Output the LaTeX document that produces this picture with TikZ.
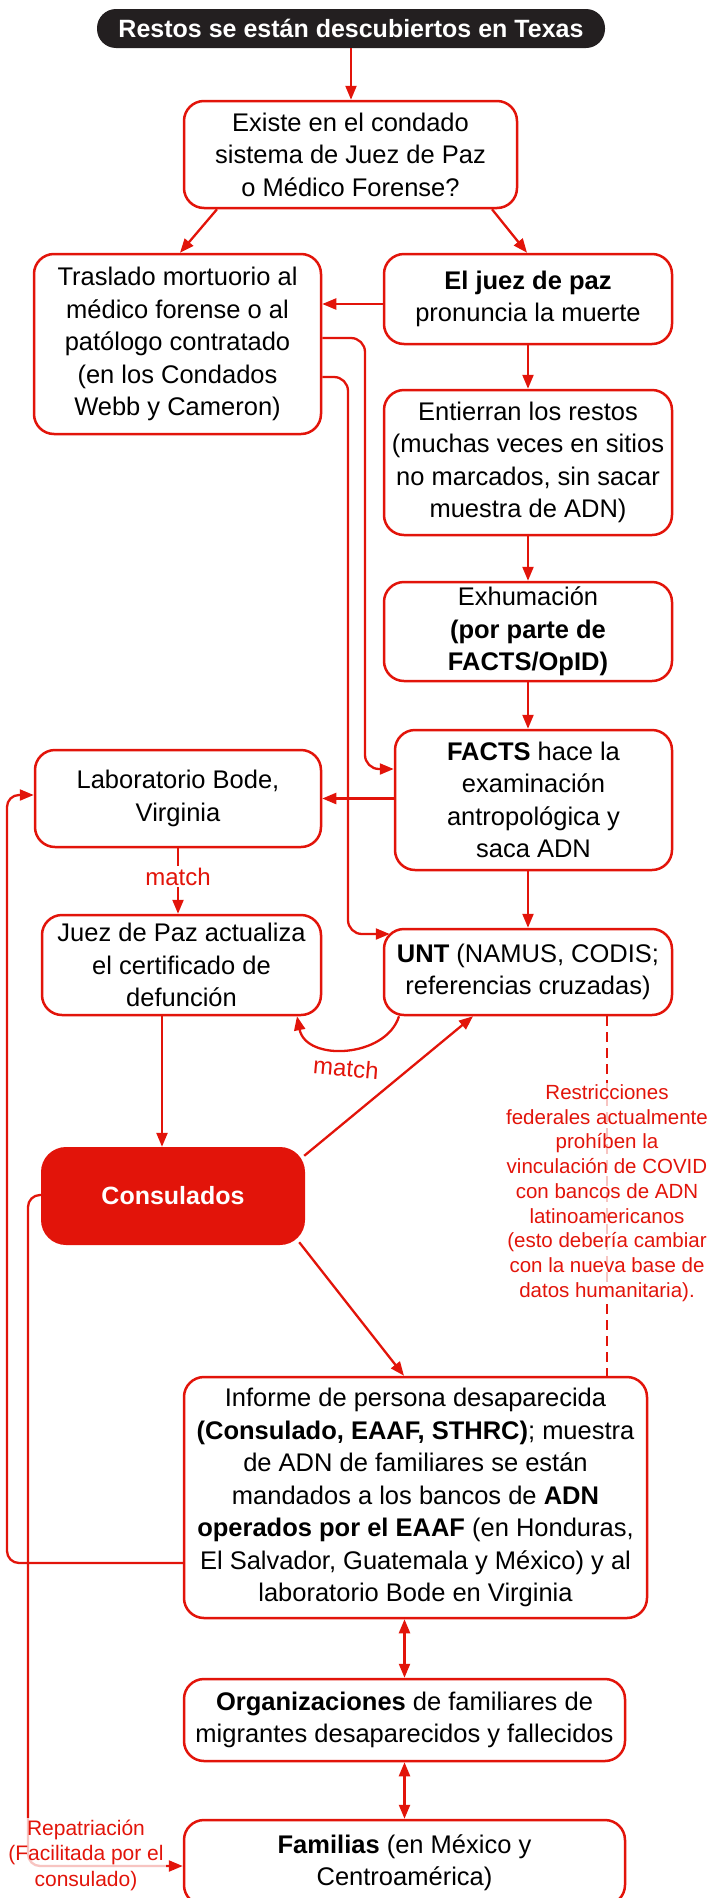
\documentclass[tikz,border=0pt]{standalone}
\usepackage{fontspec}
\setmainfont{Liberation Sans}
\usetikzlibrary{arrows.meta}
\definecolor{myred}{RGB}{226,20,10}
\definecolor{mydark}{RGB}{35,31,32}
\begin{document}
\begin{tikzpicture}[x=1pt,y=-1pt,
  box/.style={draw=myred, line width=2.5pt, rounded corners=20pt, fill=white, align=center, inner sep=0pt, font=\fontsize{25.5}{32.5}\selectfont},
  titlebox/.style={fill=mydark, text=white, rounded corners=19pt, align=center, inner sep=0pt, font=\bfseries\fontsize{25}{30}\selectfont},
  redbox/.style={fill=myred, text=white, rounded corners=25pt, align=center, inner sep=0pt, font=\bfseries\fontsize{25}{30}\selectfont},
  arr/.style={draw=myred, line width=2.3pt, -{Triangle[length=14pt,width=11pt]}},
  darr/.style={draw=myred, line width=2.3pt, {Triangle[length=14pt,width=11pt]}-{Triangle[length=14pt,width=11pt]}},
  dline/.style={draw=myred, line width=2.3pt, dash pattern=on 10pt off 6pt},
  lbl/.style={text=myred, fill=white, inner sep=2pt, font=\fontsize{24}{28}\selectfont},
  note/.style={text=myred, fill=white, fill opacity=0.75, text opacity=1, align=center, inner sep=2pt, font=\fontsize{20.5}{24.7}\selectfont}]
\useasboundingbox (0,0) rectangle (711,1898);

% nodes
\node[titlebox, minimum width=508pt, minimum height=39pt] (t) at (351,28.5) {Restos se están descubiertos en Texas};
\node[box, minimum width=333pt, minimum height=107pt] (existe) at (350.5,154.5) {Existe en el condado\\sistema de Juez de Paz\\o Médico Forense?};
\node[box, minimum width=287pt, minimum height=180pt] (traslado) at (177.5,344) {Traslado mortuorio al\\médico forense o al\\patólogo contratado\\(en los Condados\\Webb y Cameron)};
\node[box, minimum width=288pt, minimum height=90pt] (juez) at (528,299) {\textbf{El juez de paz}\\pronuncia la muerte};
\node[box, minimum width=288pt, minimum height=145pt] (entierran) at (528,462.5) {Entierran los restos\\(muchas veces en sitios\\no marcados, sin sacar\\muestra de ADN)};
\node[box, minimum width=288pt, minimum height=99pt] (exhum) at (528,631.5) {Exhumación\\\textbf{(por parte de}\\\textbf{FACTS/OpID)}};
\node[box, minimum width=277pt, minimum height=140pt] (facts) at (533.5,800) {\textbf{FACTS} hace la\\examinación\\antropológica y\\saca ADN};
\node[box, minimum width=286pt, minimum height=97pt] (bode) at (178,798.5) {Laboratorio Bode,\\Virginia};
\node[box, minimum width=279pt, minimum height=100pt] (juezact) at (181.5,965) {Juez de Paz actualiza\\el certificado de\\defunción};
\node[box, minimum width=288pt, minimum height=86pt] (unt) at (528,972) {\textbf{UNT} (NAMUS, CODIS;\\referencias cruzadas)};
\node[redbox, minimum width=264pt, minimum height=98pt] (consul) at (173,1196) {Consulados};
\node[box, minimum width=463pt, minimum height=241pt] (informe) at (415.5,1497.5) {Informe de persona desaparecida\\\textbf{(Consulado, EAAF, STHRC)}; muestra\\de ADN de familiares se están\\mandados a los bancos de \textbf{ADN}\\\textbf{operados por el EAAF} (en Honduras,\\El Salvador, Guatemala y México) y al\\laboratorio Bode en Virginia};
\node[box, minimum width=441pt, minimum height=82pt] (org) at (404.5,1720) {\textbf{Organizaciones} de familiares de\\migrantes desaparecidos y fallecidos};
\node[box, minimum width=441pt, minimum height=85pt] (fam) at (404.5,1862.5) {\textbf{Familias} (en México y\\Centroamérica)};

% helper coordinates
\coordinate (jw) at ([yshift=-5pt]juez.west);
\coordinate (te1) at ([yshift=6pt]traslado.east);
\coordinate (te2) at ([yshift=-33pt]traslado.east);
\coordinate (fw) at ([yshift=31pt]facts.west);
\coordinate (uw) at ([xshift=7pt,yshift=38pt]unt.west);
\coordinate (js) at ([xshift=-19.5pt]juezact.south);
\coordinate (ud) at ([xshift=79pt]unt.south);
\coordinate (iw) at ([yshift=-65.5pt]informe.west);
\coordinate (bw) at ([yshift=3.5pt]bode.west);
\coordinate (cw) at ([yshift=1pt]consul.west);
\coordinate (fw2) at ([yshift=-3.5pt]fam.west);

% connectors
\draw[arr] (t.south) -- (t.south |- existe.north);
\draw[arr] ([xshift=-133.5pt]existe.south) -- ([xshift=2.5pt]traslado.north);
\draw[arr] ([xshift=141.5pt]existe.south) -- ([xshift=-1pt]juez.north);
\draw[arr] (jw) -- (jw -| traslado.east);
\draw[arr] (juez.south) -- (entierran.north);
\draw[arr] (entierran.south) -- (exhum.north);
\draw[arr] (exhum.south) -- (exhum.south |- facts.north);
\draw[arr, rounded corners=14pt] (te1) -- (365,338) -- (365,769) -- (fw);
\draw[arr, rounded corners=14pt] (te2) -- (348,377) -- (348,934) -- (uw);
\draw[arr] (facts.west |- bode.east) -- (bode.east);
\draw[arr] (unt.north |- facts.south) -- (unt.north);
\draw[arr] (bode.south) -- (bode.south |- juezact.north) node[lbl, pos=0.43] {match};
\draw[arr] ([xshift=-129pt]unt.south) .. controls (386,1058) and (306,1062) .. ([xshift=115.5pt]juezact.south);
\node[lbl, fill=none, rotate=-5] (m2) at (346,1068) {match};
\draw[arr] (js) -- (js |- consul.north);
\draw[arr] ([xshift=-1pt,yshift=-9pt]consul.north east) -- ([xshift=-55pt]unt.south);
\draw[arr] ([xshift=-6pt,yshift=3pt]consul.south east) -- ([xshift=-11.5pt]informe.north);
\draw[dline] (ud) -- (ud |- informe.north);
\node[note] (restr) at (607,1193) {Restricciones\\federales actualmente\\prohíben la\\vinculación de COVID\\con bancos de ADN\\latinoamericanos\\(esto debería cambiar\\con la nueva base de\\datos humanitaria).};
\draw[arr, rounded corners=12pt] (iw) -- (7,1563) -- (7,795) -- (bw);
\draw[arr, rounded corners=12pt] (cw) -- (28,1195) -- (28,1866) -- (fw2);
\node[note, font=\fontsize{21}{25.5}\selectfont] (rep) at (86,1855) {Repatriación\\(Facilitada por el\\consulado)};
\draw[darr] (org.north |- informe.south) -- (org.north);
\draw[darr] (fam.north |- org.south) -- (fam.north);
\end{tikzpicture}
\end{document}
